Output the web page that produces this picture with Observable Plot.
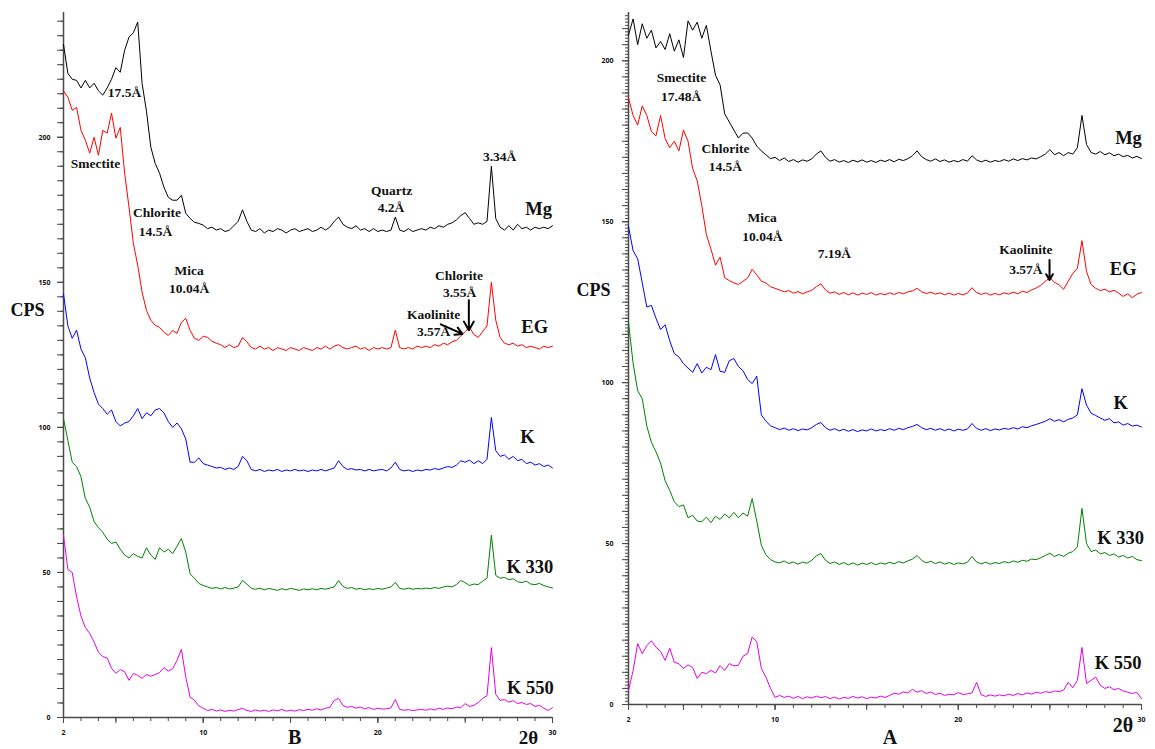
<!DOCTYPE html>
<html><head><meta charset="utf-8">
<script src="https://cdn.jsdelivr.net/npm/d3@7"></script>
<script src="https://cdn.jsdelivr.net/npm/@observablehq/plot@0.6"></script>
<style>
body{margin:0;background:#fff}
#wrap{position:relative;width:1155px;height:749px;overflow:hidden;background:#fff}
#left{position:absolute;left:0;top:0}
#right{position:absolute;left:565px;top:0}
</style>
</head><body><div id="wrap"><div id="left"></div><div id="right"></div></div>
<script>
// 2θ grid shared by all patterns
const twoTheta = [2,2.25,2.5,2.75,3,3.25,3.5,3.75,4,4.25,4.5,4.75,5,5.25,5.5,5.75,6,6.25,6.5,6.75,7,7.25,7.5,7.75,8,8.25,8.5,8.75,9,9.25,9.5,9.75,10,
10.25,10.5,10.75,11,11.25,11.5,11.75,12,12.25,12.5,12.75,13,13.25,13.5,13.75,14,14.25,14.5,14.75,15,15.25,15.5,15.75,16,16.25,16.5,16.75,17,17.25,17.5,17.75,18,18.25,18.5,18.75,19,19.25,19.5,19.75,20,20.25,20.5,20.75,21,21.25,21.5,21.75,22,22.25,22.5,22.75,23,23.25,23.5,23.75,24,24.25,24.5,24.75,25,25.25,25.5,25.75,26,26.25,26.5,26.75,27,27.25,27.5,27.75,28,28.25,28.5,28.75,29,29.25,29.5,29.75,30];

// Panel B (left)
const bMg = [232,222,220,219.6,217,219.6,217,218.6,216,214.5,217,220,224,222.4,230,234.5,236,239.7,218.6,209,196.6,191,187.6,182.8,179.3,178.3,178.3,180,173.8,172,170.7,170.3,169.7,
168.5,169,168,168.5,167.5,168,169.5,171,175,171,168,167.5,168.5,167,168,167.5,168.5,168,167,168,168.5,167.5,168,168.5,167.5,168,169,168,169,171,
172.5,170,169,168.5,169.5,168,168.5,167.5,168.5,167.5,168,167.5,168,172.5,168,167.5,168.5,167.5,168,168.5,168,169,168.5,169.5,169,170,170.5,171.5,173,174,
172,170,170.5,170,171,190,172,169,168,169.5,168,170,168.5,169,168,169,168.5,169,168.5,169.5];
const bEG = [216,213.8,209.3,210.3,202.4,199,194.5,200,193.8,202.4,201.4,208.3,199.7,203.4,187.6,176,163.4,155.9,146.6,140.3,136.9,135.2,134.5,132.8,131.7,133.4,132.4,136.2,137.6,133.4,130.7,130,131.4,
131,129.7,129,128.5,127.5,128.5,127.5,128,131,129.5,127.5,127,128,127,127.5,126.5,127.5,127,126.5,127.5,127,126.5,127.5,127,126.5,127.5,127,128,127,128,
128.5,127.5,127,127.5,128,127,127.5,126.5,127.5,127,127.5,127,127.5,133.5,127.5,127,127.5,127,128,127.5,128,127.5,128.5,128,129,128.5,129.5,130,131.5,133,
134.5,132,131,133,135,150,137,131,129,128.5,129,128,128.5,127.5,128,127.5,127,128,127.5,128];
const bK = [146,135,130.7,133.5,127,124,117,112,108,106.5,104.5,106,102,100.5,101.5,102,104,106.5,103,105,104,106,106.5,105,102,100,101.5,99.5,96,88,88,89.5,87.5,
87,86.5,86,86.2,85.5,86,85.5,86.5,90,88.5,85.5,85,85.5,84.8,85.3,85,85.5,84.8,85.3,85,85.5,85,85.3,84.8,85.3,85,85.5,85,85.5,86,
88.5,86.5,85.5,85.8,85.3,85.5,85,85.5,85,85.3,85.5,85,86,88,85.5,85,85.3,84.8,85.3,85,85.5,85.3,85.8,85.5,86,86.5,86.2,87,88.5,88,
88.7,87.5,88.5,87.5,89,103.4,92,90,90.5,89,90,88.5,89,87.5,88,87,87.5,86.5,87,86];
const bK330 = [103,95.5,88,86.5,83,75.5,72.5,67.5,65.5,63.8,61.5,60,60.5,58,56,55,56.5,55.5,55,58.5,56,54.5,58.5,57,58,56.5,59,61.7,57,49.5,48,46.2,45.5,
45,44.5,44.8,44.3,44.8,44.3,44.6,45,47.2,46,44.5,44.2,44.6,44,44.5,44.2,43.8,44.4,44,44.5,44.2,43.8,44.3,44,44.4,44,44.5,44.2,44.6,45,
47.2,45.2,44.5,44.8,44.2,44.5,44,44.4,44.1,44.5,44.2,44.6,45,46.6,44.5,44.2,44.6,44.2,44.5,44.3,44.6,44.4,44.8,44.5,45,45.3,45,45.8,47.2,46.5,
45.5,46,45.8,47,48,62.8,49,48,48.3,47.5,47.8,46.8,46.5,47,46,45.8,46.2,45.5,45,44.7];
const bK550 = [62.8,51,50,41.5,35,31,29,26,22.5,21,20.5,17,15.2,16.5,15.8,12.8,15.2,14.5,13.5,14.8,14.2,14.8,15.5,17.2,16,16.8,19.7,23.5,14,7,6,4,3.2,
2.4,2.8,2.2,2.6,2.1,2.5,2.2,2.7,3.2,2.4,2.1,2.6,2.2,2.5,2.1,2.6,2.3,2.8,2.2,2.5,2.2,2.7,2.4,2.8,2.5,3,2.6,3.2,3.5,5.9,
6.6,4.2,3.5,3.8,3.2,3.6,3,3.4,2.8,3.2,2.9,3,3.3,6.2,2.8,2.5,2.7,2.4,2.6,2.8,2.5,3,2.6,3.2,2.8,3.3,3,3.6,3.4,4.8,
3.8,4.2,5.2,6.6,7.5,24.1,8,5.9,6.2,5.3,5.8,4.8,5.2,4.5,4.8,3.8,4.2,3.2,2.4,3.4];

// Panel A (right)
const aMg = [208,213,205,211.5,207,209.5,204,206,203.5,208.4,203,206.5,201,212.4,209.5,212,207,211,203,195.5,192.5,183.5,181,178.5,176,177.5,177.6,176,173.5,172,170.8,169.6,170,
169,169.8,168.7,169.3,168.5,169.2,168.8,169.5,171,172,170,168.8,169.3,168.5,169,168.4,169.1,168.6,169.2,168.5,169,168.4,169.1,168.7,169.3,168.6,169.4,169,169.6,170.5,
172,170.2,169.3,168.8,169.5,168.7,169.2,168.5,169,168.6,169.3,168.8,170.5,169.2,168.6,169.1,168.5,169,168.7,169.3,168.8,169.5,169,169.6,169.2,169.8,169.5,170.2,171,172.4,
170.8,171.5,170.5,171.5,171,173,183,174,171.5,171,171.8,170.8,171.4,170.5,171,170.2,170.6,169.8,170.3,169.6];
const aEG = [188.5,183,180,186,183,178,176.7,183,175.8,173,175,172,178.5,175,166.5,162.7,155,146,141.5,136.5,139,132.6,131.7,131,130.5,131.5,132.5,135.2,133.5,131.5,131,129.8,129.3,
128.8,128.2,128.6,127.8,128.3,127.6,128.2,128.7,129.8,130.7,128.8,127.8,128.2,127.4,128,127.3,127.9,127.2,127.8,127.4,128,127.2,127.7,127.3,127.9,127.4,128,127.6,128.2,128.5,
129.3,128.2,127.7,128.1,127.5,127.9,127.3,127.8,127.2,127.7,127.3,127.8,129.5,128,127.4,127.9,127.2,127.7,127.3,127.9,127.5,128.1,127.6,128.4,128,128.8,129.4,130.2,131.5,132.6,
131.2,130.4,129,131.5,133.9,135.5,144.1,134.5,130.5,129.3,128.6,129,128.2,128.7,127.8,126.8,127.6,126.4,127.5,128];
const aK = [148.5,141,138.5,131,123.5,124,120,116.5,118,113,109,108,105.9,104.5,103.2,105.9,103,104.8,104,108.7,103.5,103.2,106.8,107.5,105,103.7,101,99.7,102,90,88,86.6,86,
85.4,85.9,85.2,85.7,85.1,85.6,85.3,86,87,87.6,86,85.2,85.7,85,85.5,84.9,85.4,84.8,85.3,85,85.6,85,85.4,85.1,85.7,85.2,85.8,85.4,86,86.4,
87,86,85.4,85.8,85.2,85.7,85.1,85.6,85,85.5,85.2,85.6,87.3,85.8,85.2,85.7,85.1,85.6,85.3,85.8,85.5,86,85.6,86.3,86,86.6,87,87.5,88,88.8,
88,88.5,87.8,88.6,89,90,98.1,93,90.5,89.8,89,88.3,88.8,87.5,87.8,86.8,87.3,86.5,86.8,86.2];
const aK330 = [118.7,106,97.5,95,86.5,81.5,78.5,75,69.5,66.5,63,61.5,62,58,58.8,57,56.8,58.2,56.5,58.5,57.5,59.2,58,59.7,58,59.5,58.5,64,57,49.5,46.5,45,44.3,
44,44.6,43.8,44.3,43.6,44.2,43.9,44.8,46.2,46.9,44.8,43.8,44.3,43.5,44.1,43.4,44,43.3,43.9,43.5,44.1,43.4,44,43.6,44.2,43.7,44.4,44,44.6,45.2,
46.3,44.8,44,44.5,43.8,44.3,43.6,44.1,43.5,44,43.7,44.2,46,44.3,43.7,44.2,43.6,44.1,43.8,44.4,44,44.6,44.2,44.8,44.5,45.2,45,45.6,46.3,47,
46,46.6,46,47,47.5,49,60.9,50,47.5,48,46.8,47.2,46.3,46.8,45.8,46.3,45.5,46,45,44.7];
const aK550 = [4.3,10.5,18.9,15.8,18.3,19.8,17.8,16.5,13.7,17.5,13.1,12.7,11.2,12.3,11.5,8.1,10,9.6,10.6,9.8,12.1,10.6,12.7,12,12.2,15,15.8,21,19.5,11.2,8.5,5,2.2,
2.8,2.2,2.6,1.9,2.5,1.8,2.4,2,2.6,2.1,2.5,1.8,2.3,1.7,2.2,1.9,2.5,2,2.4,1.8,2.3,2,2.6,2.2,2.8,3.5,3.2,3.9,3.6,4.7,
3.8,4.3,3.4,3.9,3.1,3.5,2.8,3.2,3,3.7,3.1,3.3,3.6,6.9,3,2.5,3,2.6,3,2.7,3.2,2.8,3.4,3,3.6,3.2,3.8,3.5,4,3.7,
4.2,4,4.5,6.9,5.2,7.5,17.7,6.5,7.5,8.5,6,5,5.5,4.6,5,4.2,3.8,3.4,3.8,1.8];

const seriesColors = ["#000000", "#ff0000", "#0000ff", "#008000", "#e600e6"];

// tick labels
const xTickLabels = [2, 10, 20, 30];
const yTickLabels = [0, 50, 100, 150, 200];

// annotations
const bNotes = [
  {x:5.49, y:215.3, text:"17.5Å"},
  {x:3.83, y:191, text:"Smectite"},
  {x:7.35, y:174, text:"Chlorite"},
  {x:7.27, y:167.6, text:"14.5Å"},
  {x:9.19, y:154.1, text:"Mica"},
  {x:9.19, y:147.9, text:"10.04Å"},
  {x:20.79, y:181.7, text:"Quartz"},
  {x:20.75, y:175.7, text:"4.2Å"},
  {x:26.97, y:193.2, text:"3.34Å"},
  {x:24.65, y:152.4, text:"Chlorite"},
  {x:24.68, y:146.4, text:"3.55Å"},
  {x:23.19, y:139, text:"Kaolinite"},
  {x:23.19, y:133.1, text:"3.57Å"}
];
const bArrows = [
  {x1:25.21, y1:143.8, x2:25.21, y2:133.5},
  {x1:23.6, y1:135.5, x2:24.84, y2:132.2}
];
const bCurveLabels = [
  {x:29.2, y:175.2, text:"Mg"},
  {x:28.98, y:134.5, text:"EG"},
  {x:28.57, y:96.6, text:"K"},
  {x:28.7, y:51.7, text:"K 330"},
  {x:28.73, y:10.2, text:"K 550"}
];
const bTitles = [
  {x:-0.06, y:140.3, text:"CPS", size:18},
  {x:15.23, y:-6.9, text:"B", size:20},
  {x:28.63, y:-6.9, text:"2θ", size:19}
];

const aNotes = [
  {x:4.89, y:194.6, text:"Smectite"},
  {x:4.87, y:188.8, text:"17.48Å"},
  {x:7.29, y:172.7, text:"Chlorite"},
  {x:7.29, y:167.2, text:"14.5Å"},
  {x:9.29, y:151.2, text:"Mica"},
  {x:9.31, y:145.3, text:"10.04Å"},
  {x:13.24, y:140.1, text:"7.19Å"},
  {x:23.69, y:141.3, text:"Kaolinite"},
  {x:23.69, y:135.2, text:"3.57Å"}
];
const aArrows = [
  {x1:24.98, y1:138.1, x2:24.98, y2:131.9}
];
const aCurveLabels = [
  {x:29.29, y:175.9, text:"Mg"},
  {x:29.0, y:135.2, text:"EG"},
  {x:28.86, y:93.5, text:"K"},
  {x:28.86, y:51.6, text:"K 330"},
  {x:28.72, y:12.9, text:"K 550"}
];
const aTitles = [
  {x:0.09, y:128.6, text:"CPS", size:18},
  {x:16.27, y:-10.2, text:"A", size:20},
  {x:28.99, y:-6.5, text:"2θ", size:20}
];

const serif = "'Liberation Serif','Times New Roman',serif";
const axisColor = "#4a4a4a";
const blank = () => "";

function panel(p) {
  const series = p.values.map((vals, k) => ({color: seriesColors[k], pts: twoTheta.map((t, i) => ({t, v: vals[i]}))}));
  const xMinor = d3.range(2, 30.5, 1);
  const xFive = [5, 10, 15, 20, 25, 30];
  const yMinor = d3.range(0, p.yMax, p.yMinorStep);
  const yFive = d3.range(0, p.yMax, 5);
  return Plot.plot({
    width: p.width, height: 749,
    marginLeft: 63, marginRight: p.marginRight, marginTop: 12, marginBottom: p.marginBottom,
    x: {domain: [2, 30], axis: null},
    y: {domain: [0, p.yMax], axis: null},
    style: {background: "transparent", overflow: "visible"},
    marks: [
      Plot.axisY(yMinor, {anchor: "left", tickSize: 3, stroke: axisColor, tickFormat: blank, label: null}),
      Plot.axisY(yFive, {anchor: "left", tickSize: 6, stroke: axisColor, tickFormat: blank, label: null}),
      Plot.axisY(yTickLabels, {anchor: "left", tickSize: 6, tickPadding: p.yPad, stroke: axisColor, fontSize: 7, fontWeight: "bold", color: "#111", label: null}),
      Plot.axisX(xMinor, {anchor: "bottom", tickSize: 4, stroke: axisColor, tickFormat: blank, label: null}),
      Plot.axisX(xFive, {anchor: "bottom", tickSize: 6, stroke: axisColor, tickFormat: blank, label: null}),
      Plot.axisX(xTickLabels, {anchor: "bottom", tickSize: 6, tickPadding: 7, stroke: axisColor, fontSize: 7, fontWeight: "bold", color: "#111", label: null}),
      Plot.ruleX([2], {y1: 0, y2: p.yMax, stroke: axisColor, strokeWidth: 1.5}),
      Plot.ruleY([0], {x1: 2, x2: 30, stroke: axisColor, strokeWidth: 1.5}),
      ...series.map(s => Plot.line(s.pts, {x: "t", y: "v", stroke: s.color, strokeWidth: 1})),
      Plot.text(p.notes, {x: "x", y: "y", text: "text", fontFamily: serif, fontWeight: "bold", fontSize: 13.5, fill: "#111"}),
      Plot.arrow(p.arrows, {x1: "x1", y1: "y1", x2: "x2", y2: "y2", stroke: "#000", strokeWidth: 2, headLength: 9}),
      Plot.text(p.curveLabels, {x: "x", y: "y", text: "text", fontFamily: serif, fontWeight: "bold", fontSize: 18.5, fill: "#111"}),
      Plot.text(p.titles, {x: "x", y: "y", text: "text", fontFamily: serif, fontWeight: "bold", fontSize: "size", fill: "#111"})
    ]
  });
}

document.getElementById("left").append(panel({
  width: 575, marginRight: 23, marginBottom: 32, yMax: 243, yMinorStep: 5, yPad: 7,
  values: [bMg, bEG, bK, bK330, bK550],
  notes: bNotes, arrows: bArrows, curveLabels: bCurveLabels, titles: bTitles
}));
document.getElementById("right").append(panel({
  width: 590, marginRight: 14, marginBottom: 45, yMax: 215, yMinorStep: 1, yPad: 9,
  values: [aMg, aEG, aK, aK330, aK550],
  notes: aNotes, arrows: aArrows, curveLabels: aCurveLabels, titles: aTitles
}));
</script>
</body></html>
